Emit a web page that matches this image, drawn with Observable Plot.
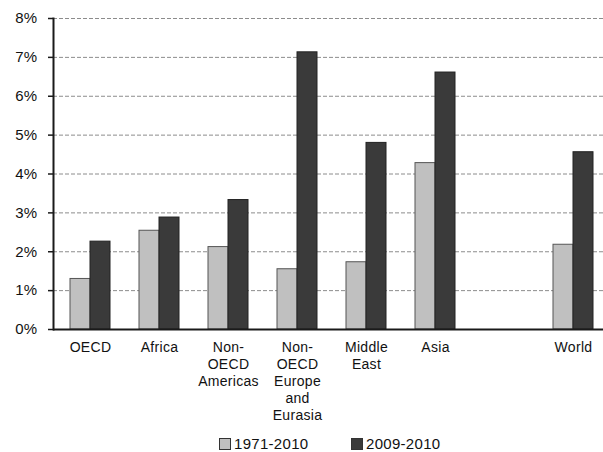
<!DOCTYPE html>
<html>
<head>
<meta charset="utf-8">
<script src="https://cdn.jsdelivr.net/npm/d3@7"></script>
<script src="https://cdn.jsdelivr.net/npm/@observablehq/plot@0.6"></script>
<style>
  body { margin: 0; background: #fff; font-family: "Liberation Sans", Arial, sans-serif; }
  #wrap { position: relative; width: 603px; height: 452px; overflow: hidden; }
  .legend { position: absolute; top: 435px; left: 0; width: 603px; font-size: 15px; color: #111; letter-spacing: 0.3px; }
  .item { position: absolute; display: flex; align-items: center; }
  .sw { width: 10px; height: 10px; border: 1px solid #333; margin-right: 3px; }
</style>
</head>
<body>
<div id="wrap"></div>
<script>
const categories = ["OECD", "Africa", "Non-OECD Americas", "Non-OECD Europe and Eurasia", "Middle East", "Asia", "", "World"];
const tickLabels = ["OECD", "Africa", "Non-\nOECD\nAmericas", "Non-\nOECD\nEurope\nand\nEurasia", "Middle\nEast", "Asia", "", "World"];
const series = ["1971-2010", "2009-2010"];
const v1971 = [1.30, 2.54, 2.12, 1.55, 1.73, 4.28, null, 2.18];
const v2009 = [2.26, 2.88, 3.33, 7.13, 4.80, 6.61, null, 4.56];
const yTicks = [0, 1, 2, 3, 4, 5, 6, 7, 8];
const colors = ["#c0c0c0", "#3a3a3a"];

const rows1 = categories.map((c, i) => ({cat: c, v: v1971[i]})).filter(d => d.v != null);
const rows2 = categories.map((c, i) => ({cat: c, v: v2009[i]})).filter(d => d.v != null);
const labelOf = new Map(categories.map((c, i) => [c, tickLabels[i]]));

const chart = Plot.plot({
  width: 603,
  height: 425,
  marginLeft: 53,
  marginRight: 0,
  marginTop: 18,
  marginBottom: 96,
  style: {fontFamily: "'Liberation Sans', Arial, sans-serif", color: "#111", overflow: "visible", letterSpacing: "0.3px"},
  x: {domain: categories, paddingInner: 0.425, paddingOuter: 0.164, align: 0.614},
  y: {domain: [0, 8]},
  marks: [
    Plot.ruleY(yTicks.filter(t => t > 0), {stroke: "#8c8c8c", strokeWidth: 1, strokeDasharray: "4,2"}),
    Plot.barY(rows1, {x: "cat", y: "v", fill: colors[0], stroke: "#555", strokeWidth: 1, insetRight: 20}),
    Plot.barY(rows2, {x: "cat", y: "v", fill: colors[1], stroke: "#222", strokeWidth: 1, insetLeft: 20}),
    Plot.ruleY([0], {stroke: "#1a1a1a", strokeWidth: 2}),
    Plot.frame({anchor: "left", stroke: "#1a1a1a", strokeWidth: 2}),
    Plot.axisY({ticks: yTicks, tickFormat: d => d + "%", tickSize: 5, tickPadding: 11, fontSize: 15, label: null, stroke: "#1a1a1a", strokeWidth: 1.5}),
    Plot.axisX({tickSize: 0, tickPadding: 11, tickFormat: d => labelOf.get(d), fontSize: 14, lineHeight: 1.2, label: null, lineAnchor: "top"})
  ]
});
document.getElementById("wrap").appendChild(chart);

const legend = document.createElement("div");
legend.className = "legend";
const legendX = [219, 351];
series.forEach((s, i) => {
  const item = document.createElement("div");
  item.className = "item";
  item.style.left = legendX[i] + "px";
  const sw = document.createElement("div");
  sw.className = "sw";
  sw.style.background = colors[i];
  item.appendChild(sw);
  const t = document.createElement("span");
  t.textContent = s;
  item.appendChild(t);
  legend.appendChild(item);
});
document.getElementById("wrap").appendChild(legend);
</script>
</body>
</html>
